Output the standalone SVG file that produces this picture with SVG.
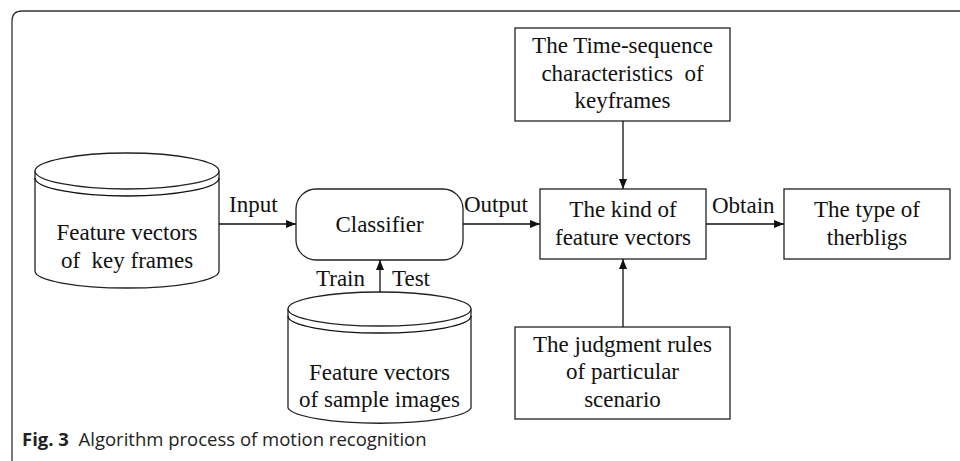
<svg xmlns="http://www.w3.org/2000/svg" width="960" height="461" viewBox="0 0 960 461">
  <style>
    .shape { fill: #fff; stroke: #222; stroke-width: 1.3; }
    .line { fill: none; stroke: #111; stroke-width: 1.3; }
    .t { font-family: "Liberation Serif", "Times New Roman", serif; font-size: 23px; fill: #111; text-anchor: middle; white-space: pre; }
    .lbl { font-family: "Liberation Serif", "Times New Roman", serif; font-size: 23px; fill: #111; }
    .cap { font-family: "Open Sans", "Noto Sans", sans-serif; font-size: 18.5px; fill: #222; white-space: pre; }
  </style>
  <defs>
    <marker id="arrow" viewBox="0 0 10 8" refX="10" refY="4" markerWidth="10" markerHeight="8" markerUnits="userSpaceOnUse" orient="auto">
      <path d="M0,0 L10,4 L0,8 Z" fill="#111"/>
    </marker>
  </defs>

  <rect width="960" height="461" fill="#fff"/>

  <!-- figure frame: top and left edges with a rounded corner -->
  <path d="M12,461 V21 Q12,11 22,11 H960" fill="none" stroke="#333" stroke-width="1.3"/>

  <!-- database: key frame features -->
  <g id="db-keyframes">
    <path class="shape" d="M35,171 V271 A92,17 0 0 0 219,271 V171"/>
    <ellipse class="shape" cx="127" cy="171" rx="92" ry="18"/>
    <path class="line" d="M35,178 A92,18 0 0 0 219,178" stroke="#222"/>
    <text class="t" x="127" y="240">Feature vectors</text>
    <text class="t" x="127" y="268">of  key frames</text>
  </g>

  <!-- classifier -->
  <g id="classifier">
    <rect class="shape" x="296" y="189" width="167" height="71" rx="20" ry="20"/>
    <text class="t" x="379.5" y="232">Classifier</text>
  </g>

  <!-- database: sample image features -->
  <g id="db-samples">
    <path class="shape" d="M288,309 V408 A92,17 0 0 0 471,408 V309"/>
    <ellipse class="shape" cx="379.5" cy="309" rx="91.5" ry="17"/>
    <path class="line" d="M288,316 A91.5,17 0 0 0 471,316" stroke="#222"/>
    <text class="t" x="379.5" y="380">Feature vectors</text>
    <text class="t" x="379.5" y="407">of sample images</text>
  </g>

  <!-- kind of feature vectors -->
  <g id="kind">
    <rect class="shape" x="540" y="189" width="166" height="70"/>
    <text class="t" x="623" y="217">The kind of</text>
    <text class="t" x="623" y="245">feature vectors</text>
  </g>

  <!-- therblig type -->
  <g id="therbligs">
    <rect class="shape" x="784" y="189" width="166" height="70"/>
    <text class="t" x="867" y="217">The type of</text>
    <text class="t" x="867" y="245">therbligs</text>
  </g>

  <!-- time-sequence characteristics -->
  <g id="time-sequence">
    <rect class="shape" x="515" y="28" width="215" height="93"/>
    <text class="t" x="622.5" y="53">The Time-sequence</text>
    <text class="t" x="622.5" y="81">characteristics  of</text>
    <text class="t" x="622.5" y="108">keyframes</text>
  </g>

  <!-- judgment rules -->
  <g id="judgment-rules">
    <rect class="shape" x="515" y="327" width="215" height="92"/>
    <text class="t" x="622.5" y="352">The judgment rules</text>
    <text class="t" x="622.5" y="379">of particular</text>
    <text class="t" x="622.5" y="407">scenario</text>
  </g>

  <!-- connectors -->
  <g id="connectors">
    <line class="line" x1="219" y1="224" x2="296" y2="224" marker-end="url(#arrow)"/>
    <line class="line" x1="463" y1="224" x2="540" y2="224" marker-end="url(#arrow)"/>
    <line class="line" x1="706" y1="224" x2="784" y2="224" marker-end="url(#arrow)"/>
    <line class="line" x1="623" y1="121" x2="623" y2="189" marker-end="url(#arrow)"/>
    <line class="line" x1="623" y1="327" x2="623" y2="259" marker-end="url(#arrow)"/>
    <line class="line" x1="380" y1="292" x2="380" y2="260" marker-end="url(#arrow)"/>
    <text class="lbl" x="229" y="212">Input</text>
    <text class="lbl" x="464" y="212">Output</text>
    <text class="lbl" x="712" y="213">Obtain</text>
    <text class="lbl" x="316" y="286">Train</text>
    <text class="lbl" x="392" y="286">Test</text>
  </g>

  <!-- caption -->
  <text class="cap" x="22" y="446"><tspan font-weight="bold">Fig. 3</tspan>  Algorithm process of motion recognition</text>
</svg>
